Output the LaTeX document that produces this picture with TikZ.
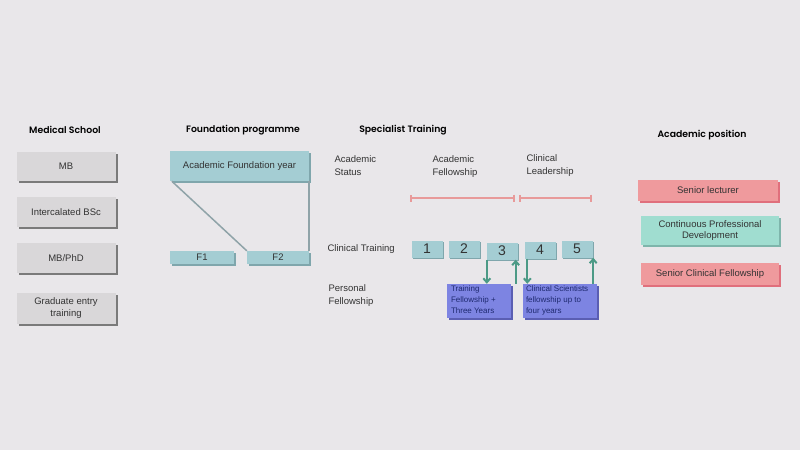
\documentclass[tikz,border=0pt]{standalone}
\usepackage{fontspec}
\setmainfont{Liberation Sans}
\newfontfamily\titlefont{Poppins}[BoldFont={* SemiBold}]
\usetikzlibrary{shadows,arrows.meta,calc}
\definecolor{bgc}{HTML}{E9E7EA}
\definecolor{grayf}{HTML}{D9D7D9}
\definecolor{grays}{HTML}{7A7A7A}
\definecolor{tealf}{HTML}{A4CDD3}
\definecolor{teals}{HTML}{7FA6AC}
\definecolor{pinkf}{HTML}{EF9A9D}
\definecolor{pinks}{HTML}{E06F7C}
\definecolor{mintf}{HTML}{A0DDD0}
\definecolor{mints}{HTML}{7EB5AB}
\definecolor{purpf}{HTML}{7D84E2}
\definecolor{purps}{HTML}{5A5EB3}
\definecolor{txt}{HTML}{333333}
\definecolor{ptxt}{HTML}{1F2A70}
\definecolor{arrc}{HTML}{4C9A86}
\definecolor{linec}{HTML}{E89A9A}
\definecolor{conn}{HTML}{8FA3A8}
\tikzset{
  x=1pt,y=1pt,
  box/.style={inner sep=1pt,align=center,text=txt,font=\fontsize{9.5}{11.5}\selectfont},
  graybox/.style={box,fill=grayf,minimum width=99pt,drop shadow={shadow xshift=2pt,shadow yshift=-2pt,fill=grays,opacity=1}},
  tealbox/.style={box,fill=tealf,drop shadow={shadow xshift=2pt,shadow yshift=-2pt,fill=teals,opacity=1}},
  numbox/.style={box,fill=tealf,minimum width=31pt,minimum height=17pt,font=\fontsize{14}{15}\selectfont,drop shadow={shadow xshift=1.5pt,shadow yshift=-1.5pt,fill=teals,opacity=1}},
  pinkbox/.style={box,fill=pinkf,drop shadow={shadow xshift=2pt,shadow yshift=-2pt,fill=pinks,opacity=1}},
  mintbox/.style={box,fill=mintf,drop shadow={shadow xshift=2pt,shadow yshift=-2pt,fill=mints,opacity=1}},
  purpbox/.style={fill=purpf,inner sep=0pt,drop shadow={shadow xshift=2pt,shadow yshift=-2pt,fill=purps,opacity=1}},
  ptext/.style={anchor=north west,inner sep=0pt,align=left,text=ptxt,font=\fontsize{8}{11}\selectfont},
  title/.style={text=black,font=\titlefont\bfseries\fontsize{9.3}{11}\selectfont},
  lbl/.style={text=txt,align=left,font=\fontsize{9.5}{13}\selectfont},
  arr/.style={draw=arrc,line width=2pt,-{Straight Barb[length=4pt,width=7pt]}},
  conline/.style={draw=conn,line width=1.5pt},
  rng/.style={draw=linec,line width=2pt,{Bar[width=7pt]}-{Bar[width=7pt]}}
}
\begin{document}
\begin{tikzpicture}
\fill[bgc] (0,0) rectangle (800,-450);
\useasboundingbox (0,0) rectangle (800,-450);

% titles
\node[title] (tms) at (65,-130) {Medical School};
\node[title] (tfp) at (243,-130) {Foundation programme};
\node[title] (tst) at (403,-130) {Specialist Training};
\node[title] (tap) at (702,-135) {Academic position};

% medical school
\node[graybox,minimum height=29pt] (mb) at (66,-166) {MB};
\node[graybox,minimum height=30pt] (ib) at (66,-212) {Intercalated BSc};
\node[graybox,minimum height=30pt] (mp) at (66,-258) {MB/PhD};
\node[graybox,minimum height=31pt] (ge) at (66,-308) {Graduate entry\\training};

% foundation
\node[tealbox,minimum width=139pt,minimum height=30pt] (afy) at (239.5,-166) {Academic Foundation year};
\node[tealbox,minimum width=64pt,minimum height=13pt] (f1) at (202,-257.5) {F1};
\node[tealbox,minimum width=62pt,minimum height=13pt] (f2) at (278,-257.5) {F2};
\draw[conline] ([xshift=2pt]afy.south west) -- (f2.north west);
\draw[conline] (afy.south east) -- (f2.north east);

% specialist labels
\node[lbl,anchor=west] (as) at (331,-165.5) {Academic\\Status};
\node[lbl,anchor=west] (af) at (429,-166.5) {Academic\\Fellowship};
\node[lbl,anchor=west] (cl) at (523,-165.5) {Clinical\\Leadership};
\node[lbl,anchor=west] (ct) at (324,-249) {Clinical Training};
\node[lbl,anchor=west] (pf) at (325,-295.5) {Personal\\Fellowship};

% ranges
\coordinate (r1a) at (410,-198);
\coordinate (r1b) at (515,-198);
\coordinate (r2a) at (519,-198);
\coordinate (r2b) at (592,-198);
\draw[rng] (r1a) -- (r1b);
\draw[rng] (r2a) -- (r2b);

% clinical boxes
\node[numbox] (c1) at (427,-249) {1};
\node[numbox] (c2) at (464,-249) {2};
\node[numbox] (c3) at (502,-251) {3};
\node[numbox] (c4) at (540,-250) {4};
\node[numbox] (c5) at (577,-249) {5};

% personal fellowship boxes
\node[purpbox,minimum width=64pt,minimum height=34pt] (tf) at (479,-301) {};
\node[purpbox,minimum width=74pt,minimum height=34pt] (cs) at (560,-301) {};
\node[ptext] (tft) at ([xshift=4pt,yshift=-2pt]tf.north west) {Training\\Fellowship +\\Three Years};
\node[ptext] (cst) at ([xshift=3pt,yshift=-2pt]cs.north west) {Clinical Scientists\\fellowship up to\\four years};

% arrows
\draw[arr] ([xshift=0.5pt]c3.south west) -- ([xshift=0.5pt]c3.south west |- tf.north);
\draw[arr] ([xshift=-2pt]c3.south east |- tf.north) -- ([xshift=-2pt]c3.south east);
\draw[arr] ([xshift=3pt]c4.south west) -- ([xshift=3pt]c4.south west |- cs.north);
\draw[arr] ([xshift=0.5pt]c5.south east |- cs.north) -- ([xshift=0.5pt]c5.south east);

% academic position
\node[pinkbox,minimum width=140pt,minimum height=21pt] (sl) at (708,-190.5) {Senior lecturer};
\node[mintbox,minimum width=138pt,minimum height=29pt] (cpd) at (710,-230.5) {Continuous Professional\\Development};
\node[pinkbox,minimum width=138pt,minimum height=22pt] (scf) at (710,-274) {Senior Clinical Fellowship};
\end{tikzpicture}
\end{document}
